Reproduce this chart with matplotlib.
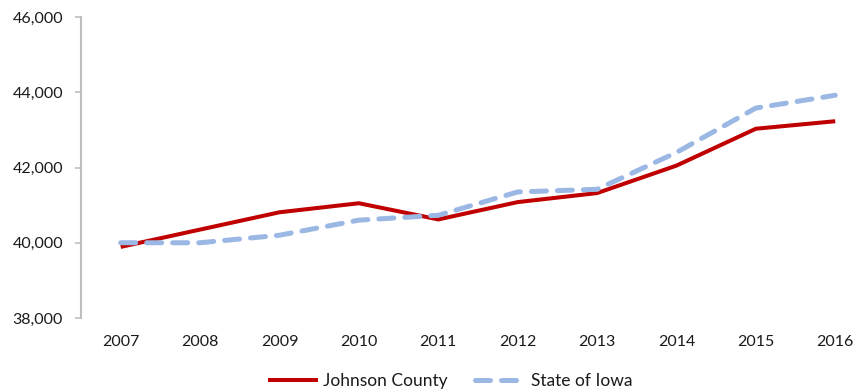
import matplotlib.pyplot as plt
from matplotlib.ticker import FuncFormatter

# Median household income, 2007-2016
years = [2007, 2008, 2009, 2010, 2011, 2012, 2013, 2014, 2015, 2016]
johnson_county = [39890, 40350, 40810, 41050, 40620, 41080, 41320, 42050, 43030, 43230]
state_of_iowa = [40000, 40000, 40200, 40600, 40730, 41350, 41420, 42400, 43580, 43920]

plt.rcParams['font.family'] = ['Lato', 'DejaVu Sans']

fig = plt.figure(figsize=(8.67, 3.89), dpi=100)
ax = fig.add_axes([81 / 867, 1 - 318 / 389, (867 - 81) / 867, (318 - 17) / 389])

ax.plot(years, johnson_county, color='#C00000', lw=2.9, solid_capstyle='butt',
        solid_joinstyle='round', label='Johnson County', zorder=2)
ax.plot(years, state_of_iowa, color='#9BB7E4', lw=3.6, dashes=(3.0, 2.2),
        dash_capstyle='round', dash_joinstyle='round', label='State of Iowa', zorder=3)

ax.set_ylim(38000, 46000)
ax.set_yticks(range(38000, 46001, 2000))
ax.yaxis.set_major_formatter(FuncFormatter(lambda v, p: f'{v:,.0f}'))
ax.set_xlim(2006.5, 2016.4)
ax.set_xticks(years)

for side in ['top', 'right', 'bottom']:
    ax.spines[side].set_visible(False)
ax.spines['left'].set_color('#BFBFBF')
ax.spines['left'].set_linewidth(1.5)

ax.tick_params(axis='y', length=4, width=1.2, color='#BFBFBF', pad=9,
               labelsize=11.5, labelcolor='#1a1a1a')
ax.tick_params(axis='x', length=0, pad=12, labelsize=11.5, labelcolor='#1a1a1a')

fig.legend(loc='center', bbox_to_anchor=(450 / 867, 1 - 381 / 389), ncol=2,
           frameon=False, fontsize=12.5, handlelength=2.9, handletextpad=0.3,
           columnspacing=1.55, labelcolor='#1a1a1a')

fig.savefig('out.png', dpi=100)
